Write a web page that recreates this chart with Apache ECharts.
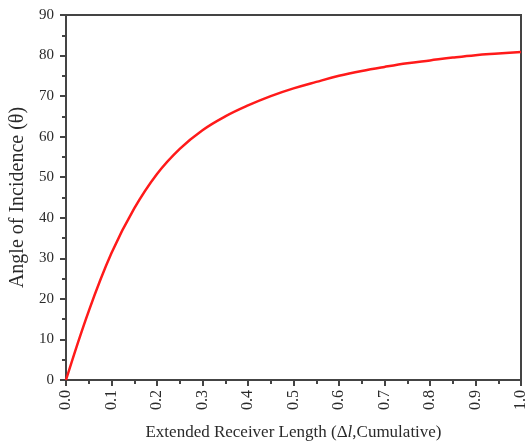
<!DOCTYPE html>
<html>
<head>
<meta charset="utf-8">
<script src="https://cdn.jsdelivr.net/npm/echarts@6/dist/echarts.min.js"></script>
<style>
  html, body { margin: 0; padding: 0; background: #fff; }
  #main { width: 529px; height: 446px; }
</style>
</head>
<body>
<div id="main"></div>
<script>
// values
var lengths = [0, 0.05, 0.1, 0.15, 0.2, 0.25, 0.3, 0.35, 0.4,
    0.45, 0.5, 0.55, 0.6, 0.65, 0.7, 0.75, 0.8, 0.85, 0.9, 0.95, 1.0];
var angles = [0, 17, 31.3, 42.3, 50.8, 57, 61.6, 65, 67.7,
    70, 71.9, 73.5, 75, 76.2, 77.2, 78.1, 78.8, 79.5, 80.1, 80.5, 80.9];

var points = lengths.map(function (x, i) { return [x, angles[i]]; });

var myChart = echarts.init(document.getElementById('main'));
var font = 'Liberation Serif';
var axisColor = '#444';
var textColor = '#2a2a2a';

var option = {
    animation: false,
    backgroundColor: '#fff',
    grid: {
        left: 66, right: 6, top: 15, bottom: 65,
        show: true, borderColor: axisColor, borderWidth: 2
    },
    xAxis: {
        type: 'value',
        min: 0, max: 1, interval: 0.1,
        name: 'Extended Receiver Length (\u0394{i|l},Cumulative)',
        nameLocation: 'middle',
        nameGap: 44,
        nameTextStyle: {
            fontFamily: font, fontSize: 17, color: textColor,
            rich: { i: { fontFamily: font, fontSize: 17, fontStyle: 'italic', color: textColor } }
        },
        axisLine: { lineStyle: { color: axisColor, width: 2 } },
        axisTick: { inside: false, length: 6, lineStyle: { color: axisColor, width: 2 } },
        minorTick: { show: true, splitNumber: 2, length: 4, lineStyle: { color: axisColor, width: 2 } },
        splitLine: { show: false },
        axisLabel: {
            rotate: 90, margin: 10, fontFamily: font, fontSize: 16, color: textColor,
            formatter: function (v) { return v.toFixed(1); }
        }
    },
    yAxis: {
        type: 'value',
        min: 0, max: 90, interval: 10,
        name: 'Angle of Incidence (\u03b8)',
        nameLocation: 'middle',
        nameGap: 35,
        nameTextStyle: { fontFamily: font, fontSize: 20, color: textColor },
        axisLine: { show: true, lineStyle: { color: axisColor, width: 2 } },
        axisTick: { show: true, inside: false, length: 6, lineStyle: { color: axisColor, width: 2 } },
        minorTick: { show: true, splitNumber: 2, length: 4, lineStyle: { color: axisColor, width: 2 } },
        splitLine: { show: false },
        axisLabel: { margin: 12, fontFamily: font, fontSize: 15, color: textColor }
    },
    series: [
        {
            type: 'line',
            data: points,
            smooth: 0.4,
            showSymbol: false,
            lineStyle: { color: '#ff1a1a', width: 2.5 }
        }
    ]
};

myChart.setOption(option);
</script>
</body>
</html>
